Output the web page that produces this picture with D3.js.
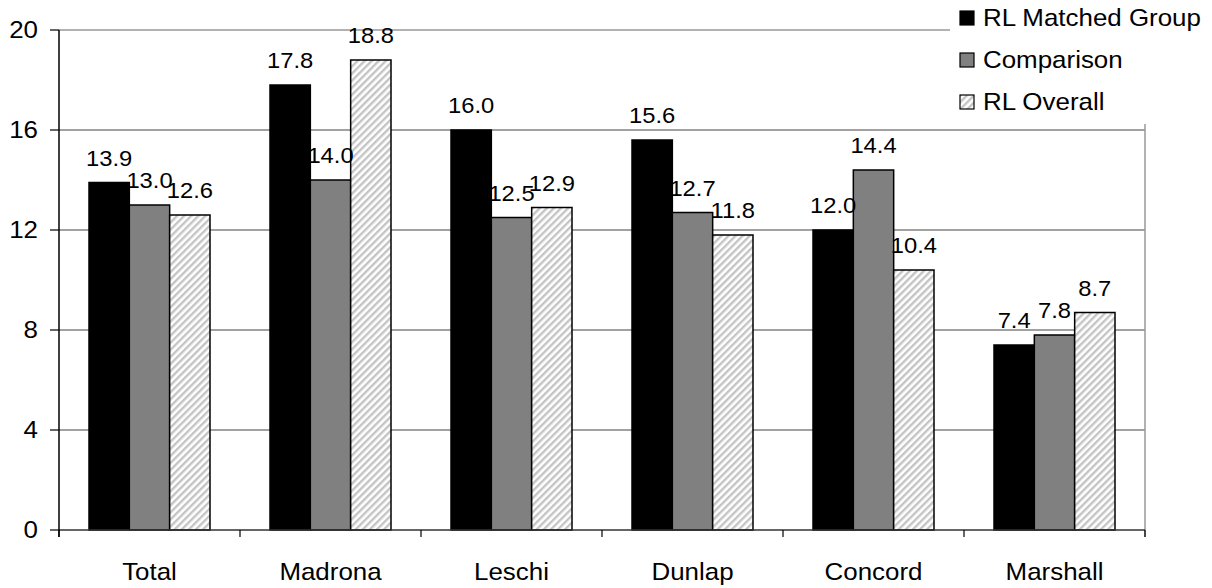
<!DOCTYPE html>
<html>
<head>
<meta charset="utf-8">
<script src="https://cdn.jsdelivr.net/npm/d3@7"></script>
<style>
  html, body { margin: 0; padding: 0; background: #fff; }
  svg { display: block; font-family: "Liberation Sans", Arial, Helvetica, sans-serif; }
</style>
</head>
<body>
<svg id="chart" width="1212" height="588"></svg>
<script>
// Grouped bar chart data
const categories = ["Total", "Madrona", "Leschi", "Dunlap", "Concord", "Marshall"];
const seriesNames = ["RL Matched Group", "Comparison", "RL Overall"];
const matchedGroup = [13.9, 17.8, 16.0, 15.6, 12.0, 7.4];
const comparison   = [13.0, 14.0, 12.5, 12.7, 14.4, 7.8];
const rlOverall    = [12.6, 18.8, 12.9, 11.8, 10.4, 8.7];
const yTicks = [0, 4, 8, 12, 16, 20];

const seriesValues = [matchedGroup, comparison, rlOverall];

const svg = d3.select("#chart");
const plotLeft = 59, plotRight = 1145, plotTop = 30, plotBottom = 530;
const sx = 1.08; // horizontal stretch applied to all text

const x0 = d3.scaleBand().domain(categories).range([plotLeft, plotRight]).padding(0);
const groupW = x0.bandwidth();
const x1 = d3.scaleBand().domain(seriesNames).range([30, groupW - 30]).padding(0);
const y = d3.scaleLinear().domain([0, 20]).range([plotBottom, plotTop]);

// hatch pattern for the third series
const defs = svg.append("defs");
const pat = defs.append("pattern")
  .attr("id", "hatch").attr("patternUnits", "userSpaceOnUse")
  .attr("width", 5).attr("height", 5)
  .attr("patternTransform", "rotate(45)");
pat.append("rect").attr("width", 5).attr("height", 5).attr("fill", "#ffffff");
pat.append("rect").attr("width", 2.4).attr("height", 5).attr("fill", "#c4c4c4");

const fills = ["#000000", "#808080", "url(#hatch)"];

function stretchedText(g, xPos, yPos, str, size, anchor) {
  return g.append("text")
    .attr("transform", `translate(${xPos},${yPos}) scale(${sx},1)`)
    .attr("text-anchor", anchor)
    .attr("font-size", size)
    .attr("fill", "#000")
    .text(str);
}

// gridlines
svg.append("g").selectAll("line")
  .data(yTicks.filter(t => t > 0 && t < 20))
  .join("line")
  .attr("x1", plotLeft).attr("x2", plotRight)
  .attr("y1", d => y(d)).attr("y2", d => y(d))
  .attr("stroke", "#444").attr("stroke-width", 1.2);

// plot frame (top and right)
svg.append("line").attr("x1", plotLeft).attr("x2", plotRight).attr("y1", y(20)).attr("y2", y(20))
  .attr("stroke", "#999").attr("stroke-width", 1.5);
svg.append("line").attr("x1", plotRight).attr("x2", plotRight).attr("y1", y(20)).attr("y2", plotBottom + 7)
  .attr("stroke", "#999").attr("stroke-width", 1.5);

// bars
const groups = svg.append("g").selectAll("g")
  .data(categories)
  .join("g")
  .attr("transform", d => `translate(${x0(d)},0)`);

groups.each(function(cat, ci) {
  const g = d3.select(this);
  seriesNames.forEach((s, si) => {
    const v = seriesValues[si][ci];
    g.append("rect")
      .attr("x", x1(s)).attr("width", x1.bandwidth())
      .attr("y", y(v)).attr("height", y(0) - y(v))
      .attr("fill", fills[si])
      .attr("stroke", "#000").attr("stroke-width", 1.5);
  });
});

// value labels
groups.each(function(cat, ci) {
  const g = d3.select(this);
  seriesNames.forEach((s, si) => {
    const v = seriesValues[si][ci];
    stretchedText(g, x1(s) + x1.bandwidth() / 2, y(v) - 17, v.toFixed(1), 22, "middle");
  });
});

// x axis
svg.append("line").attr("x1", plotLeft).attr("x2", plotRight).attr("y1", plotBottom).attr("y2", plotBottom)
  .attr("stroke", "#333").attr("stroke-width", 1.5);
const boundaries = categories.map(c => x0(c)).concat([plotRight]);
svg.append("g").selectAll("line").data(boundaries).join("line")
  .attr("x1", d => d).attr("x2", d => d).attr("y1", plotBottom).attr("y2", plotBottom + 7)
  .attr("stroke", "#000").attr("stroke-width", 1.2);
categories.forEach(c => stretchedText(svg, x0(c) + groupW / 2, 580, c, 24, "middle"));

// y axis
svg.append("line").attr("x1", plotLeft).attr("x2", plotLeft).attr("y1", plotTop).attr("y2", plotBottom + 7)
  .attr("stroke", "#000").attr("stroke-width", 1.5);
svg.append("g").selectAll("line").data(yTicks).join("line")
  .attr("x1", plotLeft - 9).attr("x2", plotLeft).attr("y1", d => y(d)).attr("y2", d => y(d))
  .attr("stroke", "#000").attr("stroke-width", 1.2);
yTicks.forEach(t => stretchedText(svg, 38, y(t) + 8, String(t), 24, "end"));

// legend
const legend = svg.append("g");
legend.append("rect").attr("x", 950).attr("y", 0).attr("width", 262).attr("height", 124).attr("fill", "#fff");
seriesNames.forEach((s, i) => {
  const cy = 18 + i * 42;
  legend.append("rect")
    .attr("x", 960).attr("y", cy - 7).attr("width", 14).attr("height", 14)
    .attr("fill", fills[i]).attr("stroke", "#000").attr("stroke-width", 1.2);
  stretchedText(legend, 983, cy + 8, s, 24, "start");
});
</script>
</body>
</html>
